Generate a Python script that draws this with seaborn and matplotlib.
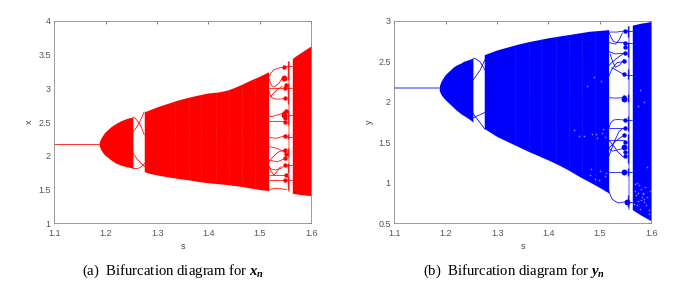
import matplotlib
matplotlib.use('Agg')
import matplotlib.pyplot as plt
import seaborn as sns

S_TICKS = [1.1, 1.2, 1.3, 1.4, 1.5, 1.6]
X_TICKS = [1, 1.5, 2, 2.5, 3, 3.5, 4]
Y_TICKS = [0.5, 1, 1.5, 2, 2.5, 3]

# fixed point before the first bifurcation
S_FIXED = [1.1, 1.187]
X_FIXED = [2.175, 2.175]
Y_FIXED = [2.165, 2.165]

# period-2 lobe
S_LOBE = [1.187, 1.188, 1.19, 1.193, 1.197, 1.2, 1.205, 1.21, 1.215, 1.22, 1.225, 1.23, 1.235, 1.24, 1.247, 1.253]
X_LOBE_TOP = [2.175, 2.21, 2.25, 2.29, 2.335, 2.36, 2.395, 2.43, 2.455, 2.48, 2.50, 2.52, 2.535, 2.55, 2.565, 2.575]
X_LOBE_BOT = [2.175, 2.14, 2.10, 2.06, 2.02, 2.00, 1.97, 1.94, 1.915, 1.89, 1.875, 1.86, 1.85, 1.84, 1.827, 1.815]
Y_LOBE_TOP = [2.165, 2.20, 2.24, 2.275, 2.315, 2.34, 2.37, 2.40, 2.43, 2.45, 2.465, 2.48, 2.50, 2.51, 2.525, 2.54]
Y_LOBE_BOT = [2.165, 2.13, 2.10, 2.07, 2.04, 2.02, 1.99, 1.96, 1.93, 1.90, 1.875, 1.85, 1.83, 1.81, 1.78, 1.75]

# main chaotic band
S_BAND = [1.275, 1.285, 1.3, 1.32, 1.34, 1.36, 1.38, 1.4, 1.42, 1.435, 1.45, 1.465, 1.48, 1.5, 1.517]
X_BAND_TOP = [2.65, 2.68, 2.725, 2.775, 2.825, 2.865, 2.90, 2.93, 2.945, 2.97, 3.01, 3.06, 3.115, 3.18, 3.245]
X_BAND_BOT = [1.765, 1.74, 1.715, 1.69, 1.665, 1.645, 1.62, 1.60, 1.585, 1.575, 1.56, 1.545, 1.525, 1.50, 1.485]
Y_BAND_TOP = [2.58, 2.605, 2.64, 2.675, 2.71, 2.74, 2.765, 2.79, 2.81, 2.825, 2.84, 2.855, 2.87, 2.88, 2.89]
Y_BAND_BOT = [1.67, 1.63, 1.57, 1.51, 1.45, 1.39, 1.335, 1.28, 1.22, 1.17, 1.115, 1.06, 1.01, 0.94, 0.875]

# last band
S_LAST = [1.563, 1.57, 1.58, 1.59, 1.6]
X_LAST_TOP = [3.44, 3.48, 3.53, 3.58, 3.63]
X_LAST_BOT = [1.445, 1.437, 1.425, 1.417, 1.41]
Y_LAST_TOP = [2.945, 2.955, 2.97, 2.98, 2.99]
Y_LAST_BOT = [0.67, 0.64, 0.60, 0.565, 0.53]

# pale vertical streaks in the band
S_STREAKS = [1.335, 1.362, 1.385, 1.415, 1.44, 1.465, 1.49]

# loops between lobe and band: (s, value)
X_LOOPS = [
    ([1.2537, 1.258, 1.2625, 1.267, 1.271, 1.275], [2.575, 2.55, 2.51, 2.46, 2.39, 2.31]),
    ([1.2537, 1.257, 1.2605, 1.2635, 1.269, 1.275], [2.357, 2.39, 2.43, 2.46, 2.55, 2.65]),
    ([1.2537, 1.257, 1.261, 1.266, 1.271, 1.2764], [2.036, 1.995, 1.95, 1.91, 1.87, 1.84]),
    ([1.2537, 1.258, 1.263, 1.267, 1.272, 1.2764], [1.815, 1.81, 1.815, 1.825, 1.855, 1.89]),
]
Y_LOOPS = [
    ([1.2537, 1.258, 1.263, 1.267, 1.272, 1.2764], [2.54, 2.53, 2.51, 2.49, 2.44, 2.39]),
    ([1.2537, 1.257, 1.262, 1.267, 1.272, 1.2764], [2.27, 2.30, 2.345, 2.39, 2.46, 2.52]),
    ([1.2537, 1.257, 1.262, 1.267, 1.272, 1.2764], [1.856, 1.82, 1.78, 1.74, 1.70, 1.66]),
    ([1.2537, 1.258, 1.263, 1.267, 1.272, 1.2764], [1.80, 1.815, 1.83, 1.84, 1.855, 1.87]),
]

# periodic window after the band
X_WINDOW = [
    ([1.517, 1.521, 1.5268, 1.533, 1.5397, 1.5507], [3.157, 3.22, 3.27, 3.29, 3.305, 3.315]),
    ([1.517, 1.5205, 1.5236, 1.53, 1.5366, 1.5443], [3.157, 3.08, 3.03, 3.03, 3.07, 3.157]),
    ([1.517, 1.53, 1.54, 1.55], [3.0, 3.0, 3.0, 3.0]),
    ([1.517, 1.52, 1.5236, 1.53, 1.54, 1.55], [2.975, 2.90, 2.86, 2.84, 2.84, 2.85]),
    ([1.52, 1.527, 1.533, 1.544], [2.87, 2.93, 2.975, 3.03]),
    ([1.517, 1.525, 1.532, 1.545], [2.58, 2.585, 2.60, 2.63]),
    ([1.517, 1.525, 1.532, 1.55], [2.505, 2.51, 2.51, 2.505]),
    ([1.517, 1.525, 1.533, 1.55], [2.27, 2.265, 2.26, 2.30]),
    ([1.517, 1.525, 1.533, 1.542, 1.55], [2.135, 2.125, 2.11, 2.08, 2.04]),
    ([1.517, 1.523, 1.53, 1.537, 1.55], [1.91, 1.96, 2.02, 2.06, 2.09]),
    ([1.517, 1.533, 1.55], [1.94, 1.91, 1.96]),
    ([1.517, 1.523, 1.53, 1.54, 1.55], [1.84, 1.80, 1.79, 1.81, 1.86]),
    ([1.517, 1.533, 1.55], [1.715, 1.715, 1.715]),
    ([1.517, 1.522, 1.527, 1.534, 1.54], [1.86, 1.77, 1.715, 1.77, 1.84]),
    ([1.517, 1.533, 1.55], [1.64, 1.64, 1.64]),
    ([1.517, 1.533, 1.552], [1.50, 1.52, 1.50]),
    ([1.55, 1.563], [3.33, 3.33]),
    ([1.55, 1.563], [3.0, 3.0]),
    ([1.55, 1.563], [2.60, 2.60]),
    ([1.55, 1.563], [2.28, 2.28]),
    ([1.55, 1.563], [1.86, 1.86]),
    ([1.55, 1.563], [1.64, 1.64]),
]
Y_WINDOW = [
    ([1.517, 1.5333, 1.549], [2.86, 2.86, 2.875]),
    ([1.518, 1.522, 1.527, 1.535, 1.549], [2.85, 2.79, 2.74, 2.73, 2.73]),
    ([1.518, 1.524, 1.53, 1.537, 1.544], [2.73, 2.72, 2.71, 2.76, 2.85]),
    ([1.517, 1.53, 1.549], [2.62, 2.59, 2.60]),
    ([1.52, 1.525, 1.53, 1.538, 1.547], [2.59, 2.49, 2.425, 2.45, 2.52]),
    ([1.518, 1.524, 1.53, 1.538, 1.547], [2.45, 2.49, 2.52, 2.56, 2.60]),
    ([1.517, 1.524, 1.533, 1.548], [2.31, 2.41, 2.48, 2.50]),
    ([1.523, 1.532, 1.54, 1.549], [2.42, 2.39, 2.36, 2.335]),
    ([1.517, 1.53, 1.547], [2.05, 2.045, 2.05]),
    ([1.517, 1.521, 1.5268, 1.535, 1.547], [1.67, 1.74, 1.775, 1.78, 1.775]),
    ([1.517, 1.5268, 1.547], [1.67, 1.67, 1.67]),
    ([1.517, 1.53, 1.547], [1.426, 1.51, 1.59]),
    ([1.517, 1.53, 1.547], [1.53, 1.53, 1.53]),
    ([1.517, 1.5268, 1.537, 1.544], [1.32, 1.49, 1.63, 1.67]),
    ([1.517, 1.526, 1.534, 1.545], [1.53, 1.46, 1.39, 1.32]),
    ([1.517, 1.524, 1.547], [1.426, 1.39, 1.426]),
    ([1.517, 1.533, 1.547], [1.137, 1.137, 1.137]),
    ([1.516, 1.519, 1.5236, 1.53, 1.5366, 1.55], [0.93, 0.87, 0.80, 0.77, 0.75, 0.767]),
    ([1.55, 1.563], [2.87, 2.87]),
    ([1.55, 1.563], [2.73, 2.73]),
    ([1.55, 1.563], [2.335, 2.335]),
    ([1.55, 1.563], [1.775, 1.775]),
    ([1.55, 1.563], [1.137, 1.137]),
    ([1.55, 1.563], [0.767, 0.767]),
]

# dark knots on the branches at the end of the window
S_X_KNOTS = [1.547, 1.547, 1.548, 1.548, 1.547, 1.549, 1.549, 1.549, 1.549, 1.549, 1.549, 1.55, 1.549, 1.55, 1.55, 1.55]
X_KNOTS = [3.315, 3.157, 3.0, 2.85, 2.63, 2.56, 2.505, 2.30, 2.09, 1.96, 1.86, 1.715, 1.64, 3.05, 2.67, 2.02]
S_Y_KNOTS = [1.549, 1.548, 1.548, 1.547, 1.547, 1.547, 1.549, 1.548, 1.547, 1.548, 1.549, 1.548, 1.549]
Y_KNOTS = [2.875, 2.73, 2.60, 2.50, 2.34, 2.06, 1.775, 1.67, 1.59, 1.50, 1.33, 2.68, 1.38]
# larger knots
S_X_BIG = [1.547, 1.547]
X_BIG = [2.60, 3.157]
S_Y_BIG = [1.546, 1.547, 1.546, 1.552]
Y_BIG = [2.03, 1.137, 1.44, 0.767]

# dense column at the close of the window
S_COLUMN = 1.5548
X_COLUMN_SPAN = (1.47, 3.41)
X_COLUMN = [(1.50, 1.70), (1.74, 1.90), (1.98, 2.12), (2.25, 2.32), (2.45, 2.68), (2.76, 3.08), (3.12, 3.41)]
Y_COLUMN_SPAN = (0.66, 2.93)
Y_COLUMN = [(0.70, 0.85), (1.08, 1.18), (1.25, 1.60), (1.64, 1.82), (2.00, 2.10), (2.28, 2.40), (2.55, 2.74), (2.80, 2.93)]

# pale specks inside the blue bands
S_SPECKS = [1.47, 1.485, 1.495, 1.505, 1.51, 1.48, 1.5, 1.49, 1.51, 1.475, 1.488, 1.503, 1.57, 1.575, 1.58, 1.585, 1.59,
            1.572, 1.578, 1.588, 1.595, 1.592, 1.568, 1.574, 1.582, 1.586, 1.567, 1.577, 1.583, 1.591, 1.596, 1.597,
            1.569, 1.573, 1.579, 1.584, 1.45, 1.46, 1.498, 1.512, 1.507, 1.493, 1.483, 1.574, 1.586, 1.578]
Y_SPECKS = [1.58, 1.6, 1.55, 1.62, 1.57, 1.1, 1.15, 1.05, 1.08, 2.2, 2.3, 2.25, 0.85, 0.78, 0.92, 0.8, 0.72, 1.0,
            0.68, 0.95, 0.62, 1.2, 0.9, 0.88, 0.83, 0.76, 0.74, 0.97, 0.87, 0.82, 0.66, 0.9, 0.99, 0.73, 0.79, 0.86,
            1.65, 1.58, 1.03, 1.12, 1.66, 1.6, 1.17, 1.95, 2.0, 2.15]


def draw_line(ax, s, v, color, lw=0.55):
    sns.lineplot(x=s, y=v, ax=ax, color=color, lw=lw, estimator=None, sort=False, legend=False)


def draw_panel(ax, color, ylabel, yticks, ylim, fixed, lobe, band, last, loops, window, knots, big, span, column):
    draw_line(ax, S_FIXED, fixed[0], fixed[1], fixed[2])
    ax.fill_between(S_LOBE, lobe[0], lobe[1], color=color, lw=0)
    band_poly = ax.fill_between(S_BAND, band[0], band[1], color=color, lw=0)
    ax.fill_between(S_LAST, last[0], last[1], color=color, lw=0)
    for s, v in loops + window:
        draw_line(ax, s, v, color)
    sns.scatterplot(x=knots[0], y=knots[1], ax=ax, color=color, s=10, marker='o', lw=0, legend=False)
    sns.scatterplot(x=big[0], y=big[1], ax=ax, color=color, s=18, marker='o', lw=0, legend=False)
    ax.vlines(S_COLUMN + 0.002, span[0], span[1], color=color, lw=1.4, alpha=0.35)
    for lo, hi in column:
        ax.vlines(S_COLUMN, lo, hi, color=color, lw=1.0, alpha=0.85)
    for s in S_STREAKS:
        streak = ax.axvline(s, color='white', lw=0.6, alpha=0.2, ls=(0, (1, 2)))
        streak.set_clip_path(band_poly.get_paths()[0], band_poly.get_transform())

    ax.set_xlim(1.1, 1.6)
    ax.set_ylim(*ylim)
    ax.set_xticks(S_TICKS)
    ax.set_yticks(yticks)
    ax.set_xticklabels([f'{t:g}' for t in S_TICKS])
    ax.set_yticklabels([f'{t:g}' for t in yticks])
    ax.tick_params(direction='in', length=2, width=0.5, top=True, right=True, colors='#555555', labelsize=6.5)
    ax.tick_params(axis='x', pad=4)
    ax.tick_params(axis='y', pad=2.5)
    ax.set_xlabel('s', fontsize=6.5, color='#444444', labelpad=3)
    ax.set_ylabel(ylabel, fontsize=6.5, color='#444444', labelpad=3)
    for spine in ax.spines.values():
        spine.set_visible(True)
        spine.set_linewidth(0.6)
        spine.set_color('#8a8a8a')


def main():
    sns.set_theme(style='white')
    plt.rcParams['font.family'] = ['Liberation Sans', 'DejaVu Sans']
    plt.rcParams['mathtext.fontset'] = 'custom'
    plt.rcParams['mathtext.it'] = 'Liberation Serif:italic:bold'
    plt.rcParams['mathtext.rm'] = 'Liberation Serif'

    fig = plt.figure(figsize=(6.83, 2.92), dpi=100)
    w, h = 683, 292
    ax1 = fig.add_axes([54.3 / w, 1 - 223.3 / h, 257 / w, 202.6 / h])
    ax2 = fig.add_axes([394.3 / w, 1 - 223.3 / h, 257 / w, 202.6 / h])

    draw_panel(ax1, '#ff0000', 'x', X_TICKS, (1, 4), (X_FIXED, '#ff3030', 0.7),
               (X_LOBE_TOP, X_LOBE_BOT), (X_BAND_TOP, X_BAND_BOT), (X_LAST_TOP, X_LAST_BOT),
               X_LOOPS, X_WINDOW, (S_X_KNOTS, X_KNOTS), (S_X_BIG, X_BIG), X_COLUMN_SPAN, X_COLUMN)
    draw_panel(ax2, '#0000ff', 'y', Y_TICKS, (0.5, 3), (Y_FIXED, '#8080ff', 1.2),
               (Y_LOBE_TOP, Y_LOBE_BOT), (Y_BAND_TOP, Y_BAND_BOT), (Y_LAST_TOP, Y_LAST_BOT),
               Y_LOOPS, Y_WINDOW, (S_Y_KNOTS, Y_KNOTS), (S_Y_BIG, Y_BIG), Y_COLUMN_SPAN, Y_COLUMN)
    sns.scatterplot(x=S_SPECKS, y=Y_SPECKS, ax=ax2, color='white', s=1.5, lw=0, alpha=0.5, legend=False)

    for xc, label in [(173 / w, '(a)  Bifurcation diagram for $x_n$'), (514 / w, '(b)  Bifurcation diagram for $y_n$')]:
        fig.text(xc, 1 - 271.5 / h, label, ha='center', va='center', fontsize=10.6,
                 family='Liberation Serif', color='black')

    fig.savefig('out.png', dpi=100)
    plt.close(fig)


if __name__ == '__main__':
    main()
